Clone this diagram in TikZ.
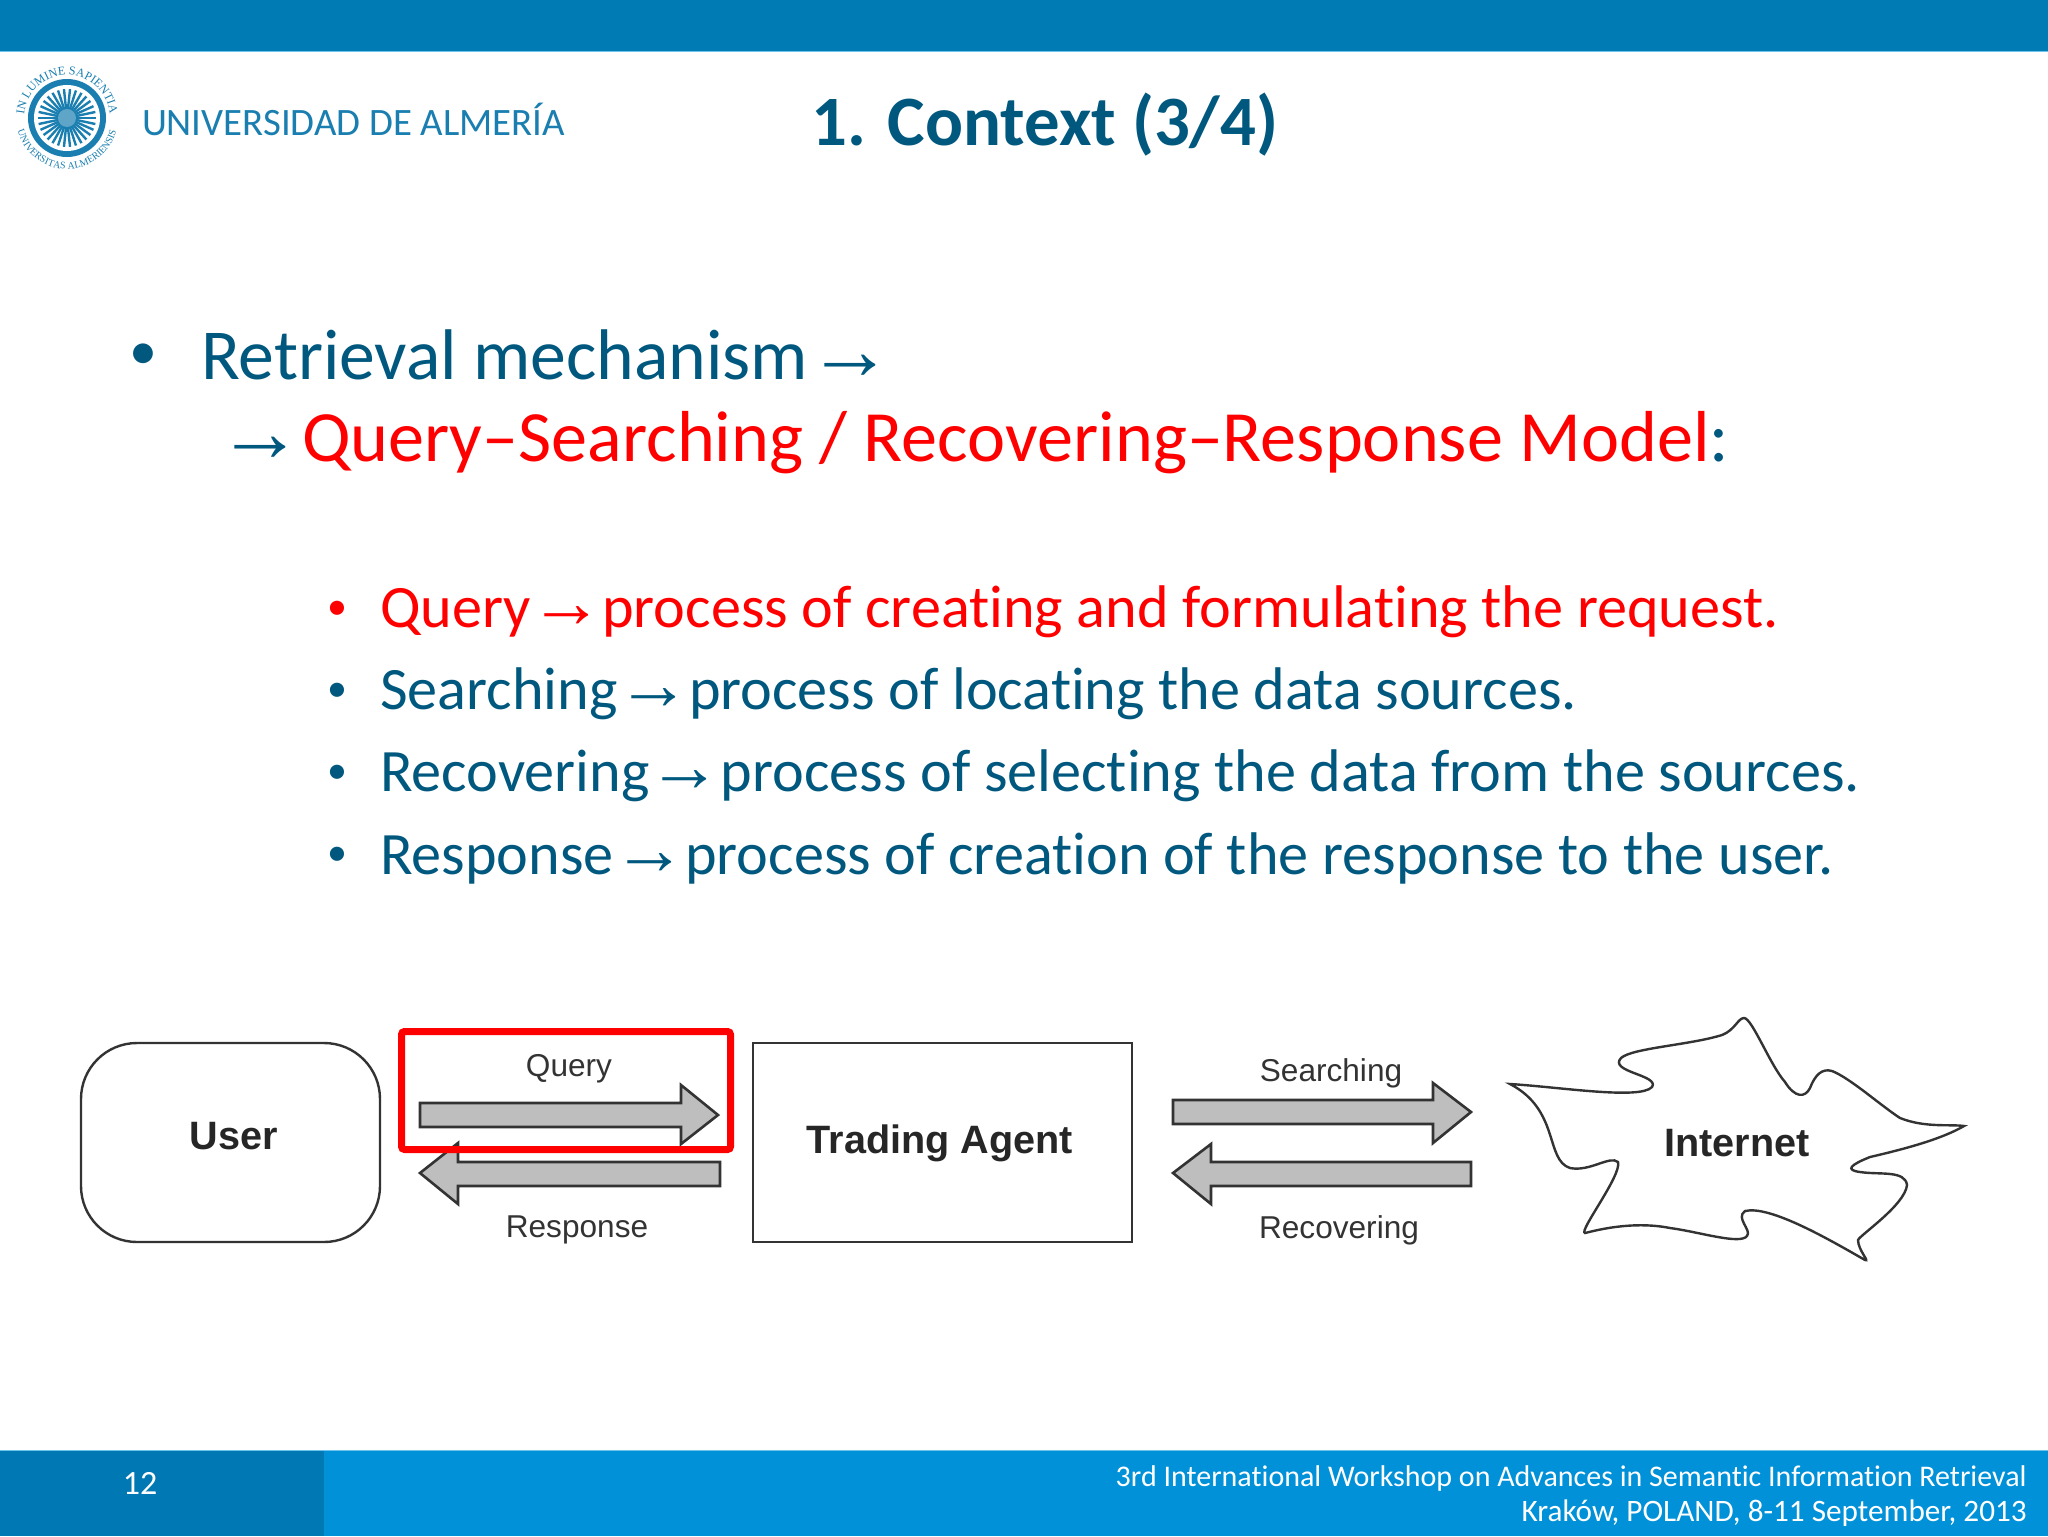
\documentclass[tikz,border=0pt]{standalone}
\usepackage{fontspec}
\setmainfont[Ligatures=NoCommon]{Carlito}
\newfontfamily\arial{Liberation Sans}
\newfontfamily\arrowfont{Liberation Mono}
\newfontfamily\logoserif{Liberation Serif}
\newcommand{\arw}{{\arrowfont\fontsize{43}{36}\selectfont →}}
\newcommand{\arws}{{\arrowfont\fontsize{37}{30}\selectfont →}}
\usetikzlibrary{decorations.text}
\definecolor{barblue}{HTML}{007BB4}
\definecolor{footblue}{HTML}{0091D8}
\definecolor{footdark}{HTML}{0078B3}
\definecolor{edgeblue}{HTML}{6CC4EC}
\definecolor{txtblue}{HTML}{00587F}
\definecolor{logoblue}{HTML}{1A7FB0}
\definecolor{arrowgray}{HTML}{BEBEBE}
\tikzset{
 slidetext/.style={anchor=base west,inner sep=0pt,outer sep=0pt,text=txtblue},
 hd/.style={slidetext,font=\fontsize{36.1}{36.1}\selectfont},
 sub/.style={slidetext,font=\fontsize{30.1}{30.1}\selectfont},
 lab/.style={inner sep=0pt,text=black!80,font=\arial\fontsize{15.8}{15.8}\selectfont},
 labb/.style={inner sep=0pt,text=black!85,font=\arial\bfseries\fontsize{19.8}{19.8}\selectfont},
 fatarrow/.style={draw=black!80,fill=arrowgray,line width=1.3pt,line join=miter},
 outline/.style={draw=black!80,line width=1.2pt,outer sep=0pt},
 foot/.style={inner sep=0pt,text=white,font=\fontsize{15}{15}\selectfont}
}
\begin{document}
\begin{tikzpicture}[x=0.5pt,y=-0.5pt]
\useasboundingbox (0,0) rectangle (2048,1536);
\fill[white] (0,0) rectangle (2048,1536);
\fill[barblue] (0,0) rectangle (2048,51);
\fill[edgeblue] (0,51) rectangle (2048,52);
\fill[footblue] (0,1450) rectangle (2048,1536);
\fill[footdark] (0,1450) rectangle (324,1536);
\fill[edgeblue] (0,1450) rectangle (2048,1451);
% logo
\fill[logoblue] (67,118) circle (39);
\fill[white] (67,118) circle (33);
\foreach \a in {0,12,...,348} \draw[logoblue,line width=1.2pt] (67,118) ++(\a:7) -- ++(\a:22);
\fill[logoblue!70] (67,118) circle (9);
\path[decorate,decoration={text along path,text align=center,text={|\logoserif\fontsize{6}{6}\selectfont\color{logoblue}|IN LUMINE SAPIENTIA}}] (67,118) ++(160:43) arc[start angle=160,end angle=380,radius=43];
\path[decorate,decoration={text along path,text align=center,text={|\logoserif\fontsize{5}{5}\selectfont\color{logoblue}|UNIVERSITAS ALMERIENSIS}}] (67,118) ++(172:51) arc[start angle=172,end angle=8,radius=51];
\node[slidetext,text=logoblue,font=\fontsize{19.4}{19.4}\selectfont] (uni) at (142,135) {UNIVERSIDAD DE ALMERÍA};
% title
\node[inner sep=0pt,text=txtblue,font=\bfseries\fontsize{35.4}{35.4}\selectfont,anchor=base] (title) at (1045,145) {1. Context (3/4)};
% bullets
\node[slidetext,font=\fontsize{28}{28}\selectfont] (b0) at (129,369) {•};
\node[hd,font=\fontsize{35.85}{35.85}\selectfont] (l1) at (201,379) {Retrieval mechanism \arw};
\node[hd] (l2a) at (234,461) {\arw};
\node[hd,text=red] (l2) at (302,461) {Query–Searching / Recovering–Response Model\textcolor{txtblue}{:}};
\node[slidetext,text=red,font=\fontsize{20}{20}\selectfont] (d1) at (327,619) {•};
\node[slidetext,font=\fontsize{20}{20}\selectfont] (d2) at (327,701) {•};
\node[slidetext,font=\fontsize{20}{20}\selectfont] (d3) at (327,783) {•};
\node[slidetext,font=\fontsize{20}{20}\selectfont] (d4) at (327,865) {•};
\node[sub,text=red] (s1) at (380,627) {Query \arws{} process of creating and formulating the request.};
\node[sub] (s2) at (380,709) {Searching \arws{} process of locating the data sources.};
\node[sub] (s3) at (380,791) {Recovering \arws{} process of selecting the data from the sources.};
\node[sub] (s4) at (380,874) {Response \arws{} process of creation of the response to the user.};
% diagram
\node[outline,rounded corners=28pt,minimum width=149.5pt,minimum height=99.5pt,inner sep=0pt,anchor=north west] (user) at (81,1043) {};
\node[labb] (usert) at (234,1136) {User};
\node[outline,minimum width=189.5pt,minimum height=99.5pt,inner sep=0pt,anchor=north west] (agent) at (753,1043) {};
\node[labb] (agentt) at (940,1143) {Trading Agent};
\draw[fatarrow] (420,1103) -- (681,1103) -- (681,1085) -- (718,1115) -- (681,1144) -- (681,1127) -- (420,1127) -- cycle;
\draw[fatarrow] (420,1173) -- (458,1143) -- (458,1162) -- (720,1162) -- (720,1186) -- (458,1186) -- (458,1204) -- cycle;
\draw[fatarrow] (1173,1100) -- (1433,1100) -- (1433,1083) -- (1471,1112) -- (1433,1143) -- (1433,1124) -- (1173,1124) -- cycle;
\draw[fatarrow] (1173,1173) -- (1211,1144) -- (1211,1162) -- (1471,1162) -- (1471,1186) -- (1211,1186) -- (1211,1204) -- cycle;
\node[draw=red,line width=3.5pt,rounded corners=1.5pt,minimum width=164.5pt,minimum height=59pt,inner sep=0pt,outer sep=0pt,anchor=north west] (hl) at (401.5,1031.5) {};
\node[lab] (q) at (569,1069) {Query};
\node[lab] (r) at (577,1230) {Response};
\node[lab] (se) at (1331,1073) {Searching};
\node[lab] (re) at (1339,1230) {Recovering};
\draw[outline] (1510,1084) .. controls (1560,1087) and (1640,1100) .. (1652,1087)
 .. controls (1660,1075) and (1608,1072) .. (1621,1058)
 .. controls (1632,1048) and (1690,1045) .. (1722,1035)
 .. controls (1735,1030) and (1738,1018) .. (1744,1018)
 .. controls (1752,1018) and (1770,1065) .. (1785,1082)
 .. controls (1795,1098) and (1805,1098) .. (1810,1088)
 .. controls (1815,1075) and (1822,1068) .. (1832,1071)
 .. controls (1850,1078) and (1880,1105) .. (1900,1118)
 .. controls (1925,1128) and (1950,1124) .. (1964,1126)
 .. controls (1940,1140) and (1900,1150) .. (1870,1157)
 .. controls (1850,1165) and (1845,1170) .. (1860,1172)
 .. controls (1880,1175) and (1905,1170) .. (1907,1185)
 .. controls (1905,1205) and (1860,1235) .. (1858,1240)
 .. controls (1858,1250) and (1870,1262) .. (1865,1260)
 .. controls (1830,1240) and (1770,1205) .. (1745,1211)
 .. controls (1735,1218) and (1752,1230) .. (1747,1236)
 .. controls (1740,1245) and (1700,1232) .. (1670,1228)
 .. controls (1630,1220) and (1590,1232) .. (1585,1233)
 .. controls (1578,1232) and (1622,1175) .. (1618,1162)
 .. controls (1610,1155) and (1590,1172) .. (1570,1168)
 .. controls (1545,1160) and (1560,1110) .. (1510,1084) -- cycle;
\node[labb] (net) at (1737,1143) {Internet};
% footer
\node[foot,font=\fontsize{17}{17}\selectfont] (pg) at (140,1483) {12};
\node[foot,anchor=base east] (f1) at (2027,1486) {3rd International Workshop on Advances in Semantic Information Retrieval};
\node[foot,anchor=base east,font=\fontsize{15.6}{15.6}\selectfont] (f2) at (2027,1521) {Kraków, POLAND, 8-11 September, 2013};
\end{tikzpicture}
\end{document}
